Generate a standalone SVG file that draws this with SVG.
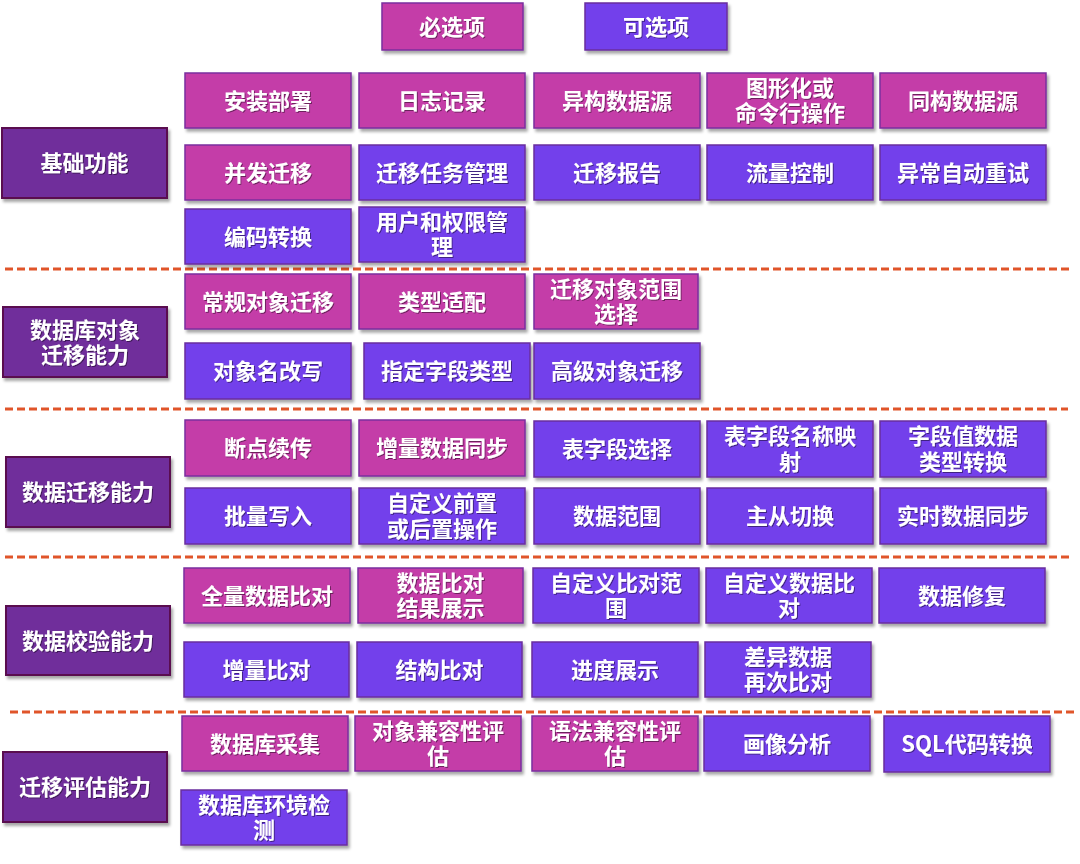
<svg xmlns="http://www.w3.org/2000/svg" width="1080" height="864" viewBox="0 0 1080 864">
<defs>
<filter id="sh" x="-10%" y="-10%" width="130%" height="140%">
<feDropShadow dx="2" dy="3" stdDeviation="1.5" flood-color="#000" flood-opacity="0.35"/>
</filter>
<filter id="ts" x="-10%" y="-20%" width="120%" height="150%">
<feDropShadow dx="1" dy="1" stdDeviation="0.6" flood-color="#000" flood-opacity="0.45"/>
</filter>
</defs>
<style>
.m{fill:#C43DA8;stroke:#7B2E9E;stroke-width:1.5;filter:url(#sh)}
.o{fill:#733FEB;stroke:#6A2E9E;stroke-width:1.5;filter:url(#sh)}
.c{fill:#6F2D9B;stroke:#5A0C50;stroke-width:2;filter:url(#sh)}
text{font-family:"Noto Sans CJK SC","Noto Sans",sans-serif;font-weight:bold;font-size:22px;fill:#fff;text-anchor:middle;dominant-baseline:central;filter:url(#ts);transform:translateY(-2px)}
.sep{stroke:#E0552A;stroke-width:3;stroke-dasharray:8 4;fill:none}
</style>
<rect width="1080" height="864" fill="#fff"/>

<g id="connectors">
<line class="sep" x1="5" y1="269" x2="1072" y2="269"/>
<line class="sep" x1="5" y1="409" x2="1068" y2="409"/>
<line class="sep" x1="5" y1="557" x2="1072" y2="557"/>
<line class="sep" x1="10" y1="712" x2="1077" y2="712"/>
</g>

<g id="legend-required"><rect class="m" x="382" y="3" width="141" height="47"/><text x="452" y="26.5">必选项</text></g>
<g id="legend-optional"><rect class="o" x="585" y="3" width="142" height="47"/><text x="656" y="26.5">可选项</text></g>

<g id="cat1"><rect class="c" x="2" y="128" width="165" height="70"/><text x="84.5" y="163">基础功能</text></g>
<g id="cat2"><rect class="c" x="3" y="307" width="164" height="70"/><text x="85" y="329.5">数据库对象<tspan x="85" dy="25.5">迁移能力</tspan></text></g>
<g id="cat3"><rect class="c" x="6" y="457" width="164" height="70"/><text x="88" y="492">数据迁移能力</text></g>
<g id="cat4"><rect class="c" x="6" y="606" width="164" height="69"/><text x="88" y="640.5">数据校验能力</text></g>
<g id="cat5"><rect class="c" x="3" y="752" width="164" height="70"/><text x="85" y="787">迁移评估能力</text></g>

<!-- Section 1 -->
<g id="n-anzhuang"><rect class="m" x="185" y="73" width="166" height="55"/><text x="268" y="100.5">安装部署</text></g>
<g id="n-rizhi"><rect class="m" x="359" y="73" width="166" height="55"/><text x="442" y="100.5">日志记录</text></g>
<g id="n-yigou"><rect class="m" x="534" y="73" width="166" height="55"/><text x="617" y="100.5">异构数据源</text></g>
<g id="n-tuxing"><rect class="m" x="707" y="73" width="166" height="55"/><text x="790" y="88">图形化或<tspan x="790" dy="25">命令行操作</tspan></text></g>
<g id="n-tonggou"><rect class="m" x="880" y="73" width="166" height="55"/><text x="963" y="100.5">同构数据源</text></g>

<g id="n-bingfa"><rect class="m" x="185" y="145" width="166" height="55"/><text x="268" y="172.5">并发迁移</text></g>
<g id="n-renwu"><rect class="o" x="359" y="145" width="166" height="55"/><text x="442" y="172.5">迁移任务管理</text></g>
<g id="n-baogao"><rect class="o" x="534" y="145" width="166" height="55"/><text x="617" y="172.5">迁移报告</text></g>
<g id="n-liuliang"><rect class="o" x="707" y="145" width="166" height="55"/><text x="790" y="172.5">流量控制</text></g>
<g id="n-chongshi"><rect class="o" x="880" y="145" width="166" height="55"/><text x="963" y="172.5">异常自动重试</text></g>

<g id="n-bianma"><rect class="o" x="185" y="209" width="166" height="55"/><text x="268" y="236.5">编码转换</text></g>
<g id="n-yonghu"><rect class="o" x="359" y="207" width="166" height="55"/><text x="442" y="222">用户和权限管<tspan x="442" dy="25">理</tspan></text></g>

<!-- Section 2 -->
<g id="n-changgui"><rect class="m" x="185" y="274" width="166" height="55"/><text x="268" y="301.5">常规对象迁移</text></g>
<g id="n-leixing"><rect class="m" x="359" y="274" width="166" height="55"/><text x="442" y="301.5">类型适配</text></g>
<g id="n-fanwei"><rect class="m" x="534" y="274" width="164" height="55"/><text x="616" y="289">迁移对象范围<tspan x="616" dy="25">选择</tspan></text></g>

<g id="n-gaixie"><rect class="o" x="185" y="343" width="166" height="56"/><text x="268" y="371">对象名改写</text></g>
<g id="n-zhiding"><rect class="o" x="364" y="343" width="166" height="56"/><text x="447" y="371">指定字段类型</text></g>
<g id="n-gaoji"><rect class="o" x="534" y="343" width="166" height="56"/><text x="617" y="371">高级对象迁移</text></g>

<!-- Section 3 -->
<g id="n-duandian"><rect class="m" x="185" y="420" width="166" height="56"/><text x="268" y="448">断点续传</text></g>
<g id="n-zengliang"><rect class="m" x="359" y="420" width="166" height="56"/><text x="442" y="448">增量数据同步</text></g>
<g id="n-biaoziduan"><rect class="o" x="534" y="421" width="166" height="56"/><text x="617" y="449">表字段选择</text></g>
<g id="n-yingshe"><rect class="o" x="707" y="421" width="166" height="56"/><text x="790" y="436">表字段名称映<tspan x="790" dy="26">射</tspan></text></g>
<g id="n-zhuanhuan"><rect class="o" x="880" y="421" width="166" height="56"/><text x="963" y="436">字段值数据<tspan x="963" dy="26">类型转换</tspan></text></g>

<g id="n-piliang"><rect class="o" x="185" y="488" width="166" height="56"/><text x="268" y="516">批量写入</text></g>
<g id="n-zidingyi"><rect class="o" x="359" y="488" width="166" height="56"/><text x="442" y="503">自定义前置<tspan x="442" dy="26">或后置操作</tspan></text></g>
<g id="n-shujufanwei"><rect class="o" x="534" y="488" width="166" height="56"/><text x="617" y="516">数据范围</text></g>
<g id="n-zhucong"><rect class="o" x="707" y="488" width="166" height="56"/><text x="790" y="516">主从切换</text></g>
<g id="n-shishi"><rect class="o" x="880" y="488" width="166" height="56"/><text x="963" y="516">实时数据同步</text></g>

<!-- Section 4 -->
<g id="n-quanliang"><rect class="m" x="184" y="568" width="166" height="55"/><text x="267" y="595.5">全量数据比对</text></g>
<g id="n-jieguo"><rect class="m" x="358" y="568" width="165" height="55"/><text x="440.5" y="583">数据比对<tspan x="440.5" dy="25">结果展示</tspan></text></g>
<g id="n-bidui-fanwei"><rect class="o" x="533" y="568" width="166" height="55"/><text x="616" y="583">自定义比对范<tspan x="616" dy="25">围</tspan></text></g>
<g id="n-shuju-bidui"><rect class="o" x="706" y="568" width="166" height="55"/><text x="789" y="583">自定义数据比<tspan x="789" dy="25">对</tspan></text></g>
<g id="n-xiufu"><rect class="o" x="879" y="568" width="166" height="55"/><text x="962" y="595.5">数据修复</text></g>

<g id="n-zengliang-bidui"><rect class="o" x="184" y="642" width="165" height="55"/><text x="266.5" y="669.5">增量比对</text></g>
<g id="n-jiegou"><rect class="o" x="357" y="642" width="165" height="55"/><text x="439.5" y="669.5">结构比对</text></g>
<g id="n-jindu"><rect class="o" x="532" y="642" width="166" height="55"/><text x="615" y="669.5">进度展示</text></g>
<g id="n-chayi"><rect class="o" x="705" y="642" width="166" height="55"/><text x="788" y="657">差异数据<tspan x="788" dy="25">再次比对</tspan></text></g>

<!-- Section 5 -->
<g id="n-caiji"><rect class="m" x="182" y="716" width="166" height="55"/><text x="265" y="743.5">数据库采集</text></g>
<g id="n-duixiang-jianrong"><rect class="m" x="355" y="716" width="166" height="55"/><text x="438" y="731">对象兼容性评<tspan x="438" dy="25">估</tspan></text></g>
<g id="n-yufa-jianrong"><rect class="m" x="532" y="716" width="166" height="55"/><text x="615" y="731">语法兼容性评<tspan x="615" dy="25">估</tspan></text></g>
<g id="n-huaxiang"><rect class="o" x="704" y="716" width="166" height="55"/><text x="787" y="743.5">画像分析</text></g>
<g id="n-sql"><rect class="o" x="884" y="716" width="166" height="56"/><text x="967" y="744">SQL代码转换</text></g>

<g id="n-huanjing"><rect class="o" x="181" y="790" width="166" height="55"/><text x="264" y="805">数据库环境检<tspan x="264" dy="25">测</tspan></text></g>
</svg>
